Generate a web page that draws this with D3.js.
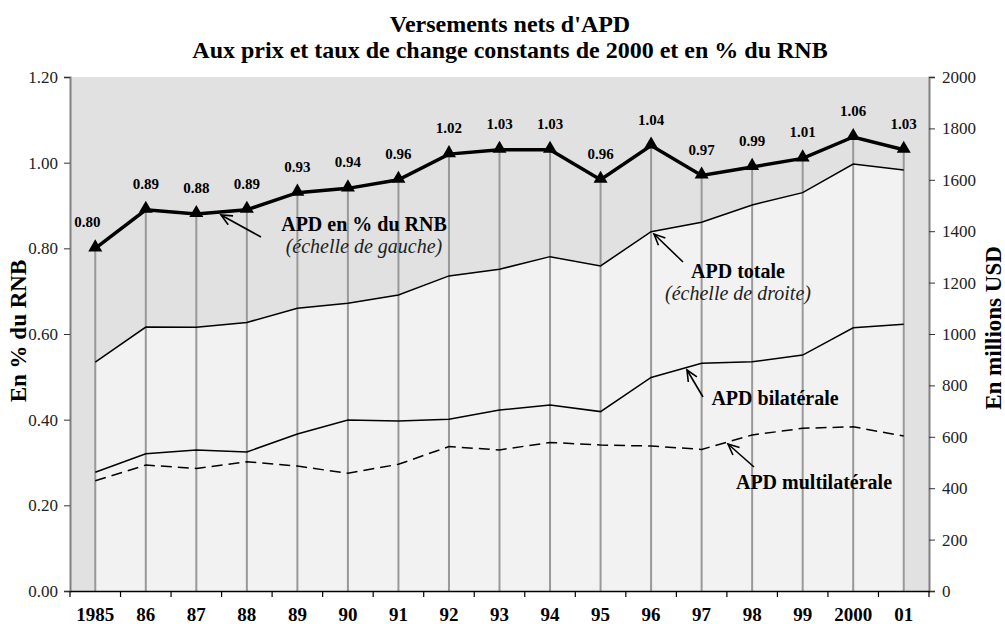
<!DOCTYPE html>
<html>
<head>
<meta charset="utf-8">
<script src="https://cdn.jsdelivr.net/npm/d3@7"></script>
<style>
  body { margin: 0; background: #fff; }
  svg, svg text { font-family: "Liberation Serif", "Times New Roman", serif; }
</style>
</head>
<body>
<svg width="1005" height="624"></svg>
<script>
// data
var years = ["1985", "86", "87", "88", "89", "90", "91", "92", "93", "94", "95", "96", "97", "98", "99", "2000", "01"];
var pctRNB = [0.80, 0.89, 0.88, 0.89, 0.93, 0.94, 0.96, 1.02, 1.03, 1.03, 0.96, 1.04, 0.97, 0.99, 1.01, 1.06, 1.03];
var apdTotale = [891, 1027, 1026, 1045, 1100, 1120, 1152, 1226, 1252, 1301, 1265, 1398, 1435, 1502, 1550, 1661, 1638];
var apdBilat = [462, 534, 549, 541, 611, 665, 661, 668, 704, 724, 698, 831, 886, 892, 918, 1024, 1038];
var apdMulti = [429, 490, 477, 503, 486, 458, 493, 562, 549, 578, 568, 564, 551, 607, 633, 639, 603];
var leftTicks = [0, 0.2, 0.4, 0.6, 0.8, 1.0, 1.2];
var rightTicks = [0, 200, 400, 600, 800, 1000, 1200, 1400, 1600, 1800, 2000];

var serif = "'Liberation Serif', 'Times New Roman', serif";
var svg = d3.select("svg");
var pLeft = 70, pRight = 929, pTop = 77, pBottom = 591;

var x = d3.scaleBand().domain(years).range([pLeft, pRight]).padding(0);
var cx = (d) => x(d) + x.bandwidth() / 2;
var yL = d3.scaleLinear().domain([0, 1.2]).range([pBottom, pTop]);
var yR = d3.scaleLinear().domain([0, 2000]).range([pBottom, pTop]);

// plot background
svg.append("rect")
  .attr("x", pLeft).attr("y", pTop)
  .attr("width", pRight - pLeft).attr("height", pBottom - pTop)
  .attr("fill", "#e1e1e1");

// total area (lighter)
var area = d3.area()
  .x((d, i) => cx(years[i]))
  .y0(pBottom)
  .y1((d) => yR(d));
svg.append("path").datum(apdTotale).attr("d", area).attr("fill", "#f2f2f2");

// drop lines from % RNB points
svg.selectAll(".drop")
  .data(pctRNB)
  .enter()
  .append("line")
  .attr("x1", (d, i) => cx(years[i]))
  .attr("x2", (d, i) => cx(years[i]))
  .attr("y1", (d) => yL(d))
  .attr("y2", pBottom)
  .attr("stroke", "#999")
  .attr("stroke-width", 2);

// series lines
var lineR = d3.line().x((d, i) => cx(years[i])).y((d) => yR(d));
svg.append("path").datum(apdTotale).attr("d", lineR)
  .attr("fill", "none").attr("stroke", "#000").attr("stroke-width", 1.5);
svg.append("path").datum(apdBilat).attr("d", lineR)
  .attr("fill", "none").attr("stroke", "#000").attr("stroke-width", 1.5);
svg.append("path").datum(apdMulti).attr("d", lineR)
  .attr("fill", "none").attr("stroke", "#000").attr("stroke-width", 1.5)
  .attr("stroke-dasharray", "11,6");

var lineL = d3.line().x((d, i) => cx(years[i])).y((d) => yL(d));
svg.append("path").datum(pctRNB).attr("d", lineL)
  .attr("fill", "none").attr("stroke", "#000").attr("stroke-width", 3.5);

svg.selectAll(".tri")
  .data(pctRNB)
  .enter()
  .append("path")
  .attr("d", d3.symbol().type(d3.symbolTriangle).size(85))
  .attr("transform", (d, i) => "translate(" + cx(years[i]) + "," + (yL(d) - 1) + ")")
  .attr("fill", "#000");

svg.selectAll(".val")
  .data(pctRNB)
  .enter()
  .append("text")
  .attr("x", (d, i) => cx(years[i]) - (i == 0 ? 8 : 0))
  .attr("y", (d) => yL(d) - 21)
  .attr("text-anchor", "middle")
  .attr("font-size", 15)
  .attr("font-weight", "bold")
  .text((d) => d3.format(".2f")(d));

// axes
var gL = svg.append("g").attr("transform", "translate(" + pLeft + ",0)")
  .call(d3.axisLeft(yL).tickValues(leftTicks).tickFormat(d3.format(".2f")).tickSize(6).tickPadding(6));
var gR = svg.append("g").attr("transform", "translate(" + pRight + ",0)")
  .call(d3.axisRight(yR).tickValues(rightTicks).tickFormat(d3.format("d")).tickSize(6).tickPadding(7));
[gL, gR].forEach((g) => {
  g.attr("font-family", serif).attr("font-size", 17);
  g.select(".domain").attr("stroke", "#808080").attr("stroke-width", 2);
  g.selectAll(".tick line").attr("stroke", "#333");
  g.selectAll("text").attr("fill", "#222");
});

var xAxis = d3.axisBottom(x).tickSize(0).tickPadding(17);
var gX = svg.append("g").attr("transform", "translate(0," + pBottom + ")").call(xAxis);
gX.attr("font-family", serif).attr("font-size", 19).attr("font-weight", "bold");
gX.select(".domain").attr("stroke", "#000").attr("stroke-width", 1.5);
// x ticks on category boundaries
svg.selectAll(".xb")
  .data(years.concat(["end"]))
  .enter()
  .append("line")
  .attr("x1", (d, i) => pLeft + i * x.bandwidth())
  .attr("x2", (d, i) => pLeft + i * x.bandwidth())
  .attr("y1", pBottom)
  .attr("y2", pBottom + 6)
  .attr("stroke", "#000")
  .attr("stroke-width", 1.2);

// titles
svg.append("text").attr("x", 510).attr("y", 32).attr("text-anchor", "middle")
  .attr("font-size", 24).attr("font-weight", "bold").text("Versements nets d'APD");
svg.append("text").attr("x", 510).attr("y", 58).attr("text-anchor", "middle")
  .attr("font-size", 24).attr("font-weight", "bold")
  .text("Aux prix et taux de change constants de 2000 et en % du RNB");

svg.append("text").attr("transform", "translate(26,331) rotate(-90)").attr("text-anchor", "middle")
  .attr("font-size", 23).attr("font-weight", "bold").text("En % du RNB");
svg.append("text").attr("transform", "translate(1001,328) rotate(-90)").attr("text-anchor", "middle")
  .attr("font-size", 23).attr("font-weight", "bold").text("En millions USD");

// annotations
var defs = svg.append("defs");
defs.append("marker")
  .attr("id", "head")
  .attr("viewBox", "-12 -6 14 12")
  .attr("markerWidth", 14).attr("markerHeight", 12)
  .attr("markerUnits", "userSpaceOnUse")
  .attr("orient", "auto")
  .append("path")
  .attr("d", "M-11,-5 L0,0 L-11,5")
  .attr("fill", "none").attr("stroke", "#000").attr("stroke-width", 1.6);

var notes = [
  { t1: "APD en % du RNB", t2: "(échelle de gauche)", tx: 364, ty: 231, a: [261, 237, 221, 215] },
  { t1: "APD totale", t2: "(échelle de droite)", tx: 738, ty: 278, a: [683, 262, 654, 234] },
  { t1: "APD bilatérale", t2: null, tx: 775, ty: 405, a: [703, 397, 687, 370] },
  { t1: "APD multilatérale", t2: null, tx: 814, ty: 489, a: [754, 467, 728, 444] }
];
notes.forEach((n) => {
  svg.append("text").attr("x", n.tx).attr("y", n.ty).attr("text-anchor", "middle")
    .attr("font-size", 20).attr("font-weight", "bold").text(n.t1);
  if (n.t2) {
    svg.append("text").attr("x", n.tx).attr("y", n.ty + 22).attr("text-anchor", "middle")
      .attr("font-size", 20).attr("font-style", "italic").attr("fill", "#222").text(n.t2);
  }
  svg.append("line")
    .attr("x1", n.a[0]).attr("y1", n.a[1]).attr("x2", n.a[2]).attr("y2", n.a[3])
    .attr("stroke", "#000").attr("stroke-width", 1.6)
    .attr("marker-end", "url(#head)");
});
</script>
</body>
</html>
